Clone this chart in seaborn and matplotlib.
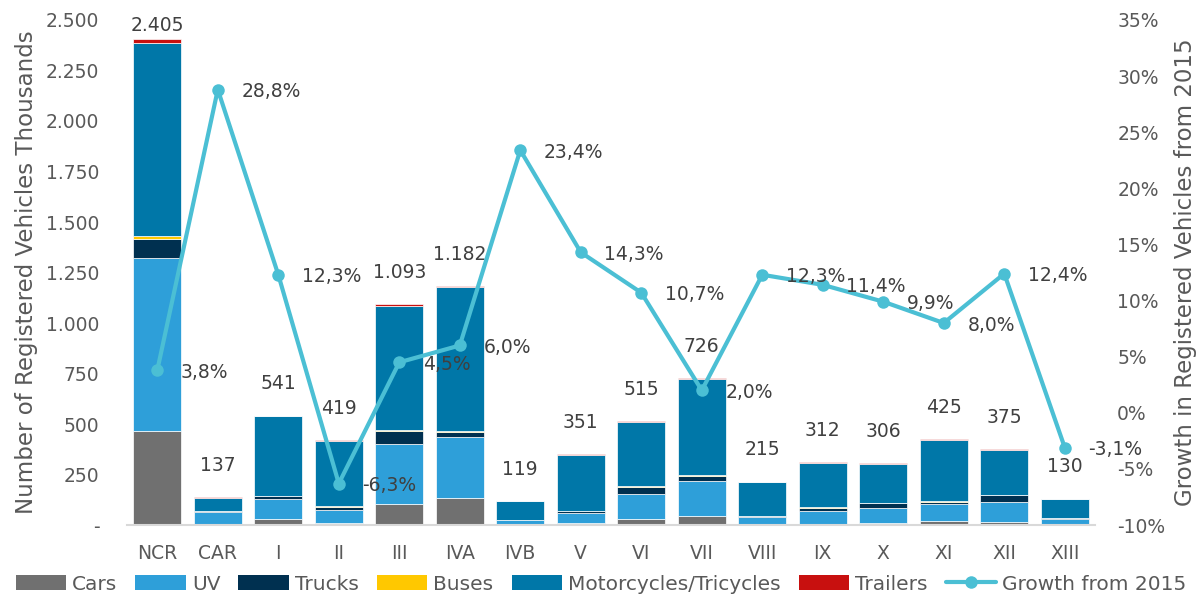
import numpy as np
import pandas as pd
import matplotlib
matplotlib.use("Agg")
import matplotlib.pyplot as plt
from matplotlib.patches import Patch
from matplotlib.lines import Line2D
from matplotlib.ticker import FuncFormatter, MultipleLocator
import matplotlib.transforms as mtransforms
import seaborn as sns

regions = ["NCR", "CAR", "I", "II", "III", "IVA", "IVB", "V", "VI", "VII",
           "VIII", "IX", "X", "XI", "XII", "XIII"]
cars = [465, 6, 28, 10, 102, 132, 3, 8, 28, 46, 4, 6, 10, 20, 14, 3]
uv = [857, 60, 102, 64, 299, 305, 20, 50, 127, 172, 35, 65, 74, 82, 98, 25]
trucks = [94, 4, 13, 17, 64, 25, 3, 10, 33, 26, 6, 15, 23, 14, 36, 5]
buses = [15, 1, 2, 3, 6, 4, 1, 2, 3, 3, 2, 3, 2, 4, 2, 1]
motorcycles = [955, 65, 393, 321, 614, 713, 90, 278, 321, 476, 166, 220, 192, 300, 221, 93]
trailers = [19, 1, 3, 4, 8, 3, 2, 3, 3, 3, 2, 3, 5, 5, 4, 3]
totals = [2405, 137, 541, 419, 1093, 1182, 119, 351, 515, 726, 215, 312, 306, 425, 375, 130]
growth = [3.8, 28.8, 12.3, -6.3, 4.5, 6.0, 23.4, 14.3, 10.7, 2.0,
          12.3, 11.4, 9.9, 8.0, 12.4, -3.1]

series_names = ["Cars", "UV", "Trucks", "Buses", "Motorcycles/Tricycles", "Trailers"]
series_vals = [cars, uv, trucks, buses, motorcycles, trailers]
colors = ["#707070", "#2E9FD9", "#003050", "#FFC800", "#0077A8", "#C8100F"]
line_color = "#4BBFD4"
text_color = "#404040"
tick_color = "#595959"

sns.set_theme(style="white")
plt.rcParams["font.family"] = ["DejaVu Sans"]

fig = plt.figure(figsize=(12.02, 5.95), dpi=100)
ax = fig.add_axes([0.1057, 0.1176, 0.8053, 0.8488])

df = pd.DataFrame({"region": regions})
bottom = np.zeros(len(regions))
for name, vals, col in zip(series_names, series_vals, colors):
    df["val"] = vals
    sns.barplot(data=df, x="region", y="val", bottom=bottom, color=col,
                width=0.8, edgecolor="white", linewidth=0.5, ax=ax,
                errorbar=None, saturation=1)
    bottom = bottom + np.array(vals)

ax.set_ylim(0, 2500)
ax.set_xlim(-0.5, len(regions) - 0.5)
ax.yaxis.set_major_locator(MultipleLocator(250))


def left_fmt(v, pos):
    if abs(v) < 1e-9:
        return "-"
    return f"{int(round(v)):,}".replace(",", ".")


ax.yaxis.set_major_formatter(FuncFormatter(left_fmt))
ax.set_xlabel("")
ax.set_ylabel("Number of Registered Vehicles Thousands", fontsize=16.5,
              color=tick_color, labelpad=6)
ax.tick_params(axis="both", length=0, labelsize=13.5, labelcolor=tick_color)
ax.tick_params(axis="x", pad=14)
ax.tick_params(axis="y", pad=20)
for s in ["top", "right", "left"]:
    ax.spines[s].set_visible(False)
ax.spines["bottom"].set_color("#D9D9D9")
ax.spines["bottom"].set_linewidth(1.5)

# total labels
trans_top = mtransforms.blended_transform_factory(ax.transData, ax.transAxes)
for i, t in enumerate(totals):
    lab = f"{t:,}".replace(",", ".")
    if t > 2300:
        ax.text(i, 0.99, lab, transform=trans_top, ha="center", va="center",
                fontsize=13.5, color=text_color)
    else:
        ax.annotate(lab, xy=(i, t), xytext=(0, 23), textcoords="offset points",
                    ha="center", va="center", fontsize=13.5, color=text_color)

ax2 = ax.twinx()
sns.lineplot(x=np.arange(len(regions)), y=growth, ax=ax2, color=line_color,
             linewidth=3, marker="o", markersize=9, markeredgewidth=0)
ax2.set_ylim(-10, 35)
ax2.yaxis.set_major_locator(MultipleLocator(5))
ax2.yaxis.set_major_formatter(FuncFormatter(lambda v, p: f"{int(round(v))}%"))
ax2.tick_params(axis="y", length=0, labelsize=13.5, labelcolor=tick_color, pad=16)
ax2.set_ylabel("Growth in Registered Vehicles from 2015", fontsize=16.5,
               color=tick_color, labelpad=6)
for s in ["top", "right", "left", "bottom"]:
    ax2.spines[s].set_visible(False)
ax2.grid(False)
ax.grid(False)

for i, g in enumerate(growth):
    ax2.annotate(f"{g:.1f}%".replace(".", ","), xy=(i, g), xytext=(17, -1.5),
                 textcoords="offset points", ha="left", va="center",
                 fontsize=13.5, color=text_color)

handles = [Patch(facecolor=c, edgecolor="none") for c in colors]
handles.append(Line2D([0], [0], color=line_color, linewidth=3, marker="o",
                      markersize=9, markeredgewidth=0))
labels = series_names + ["Growth from 2015"]
fig.legend(handles, labels, loc="lower center", bbox_to_anchor=(0.5, -0.028),
           ncol=7, frameon=False, fontsize=14.5, handlelength=2.5,
           handleheight=0.7, columnspacing=0.9, handletextpad=0.3,
           labelcolor=tick_color)

fig.savefig("out.png", dpi=100)
